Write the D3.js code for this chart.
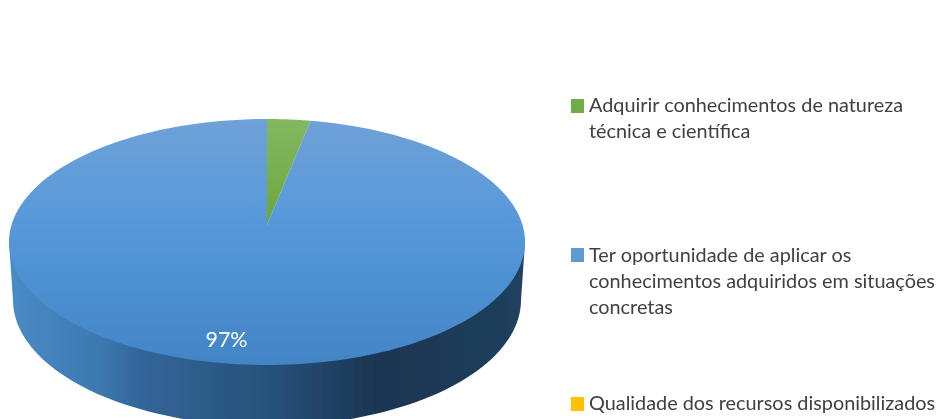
<!DOCTYPE html>
<html><head><meta charset="utf-8">
<script src="https://cdn.jsdelivr.net/npm/d3@7"></script>
<style>html,body{margin:0;background:#fff}svg{display:block}</style></head>
<body><div id="c"></div>
<script>
const categories = [
  ["Adquirir conhecimentos de natureza","técnica e científica"],
  ["Ter oportunidade de aplicar os","conhecimentos adquiridos em situações","concretas"],
  ["Qualidade dos recursos disponibilizados"]
];
const values = [2.7, 97.3, 0];
const labels = ["", "97%", ""];
const swatchColors = ["#70ad47", "#5b9bd5", "#ffc000"];

const W = 940, H = 419;
const cx = 267, cy = 242, rx = 258, ry = 123, apexY = 225;
const svg = d3.select("#c").append("svg").attr("width", W).attr("height", H);
const defs = svg.append("defs");
defs.append("filter").attr("id", "soft").append("feGaussianBlur").attr("stdDeviation", 0.45);

function grad(id, x1, y1, x2, y2, stops) {
  const g = defs.append("linearGradient").attr("id", id)
    .attr("x1", x1).attr("y1", y1).attr("x2", x2).attr("y2", y2)
    .attr("gradientUnits", "userSpaceOnUse");
  stops.forEach(s => g.append("stop").attr("offset", s[0]).attr("stop-color", s[1]));
}
grad("blueTop", cx, cy - ry, cx, cy + ry, [[0, "#6fa1d8"], [0.45, "#5598da"], [1, "#4285c6"]]);
grad("greenTop", cx, cy - ry, cx, apexY, [[0, "#84b763"], [1, "#6aa838"]]);
grad("wall", 9, 0, 525, 0, [[0, "#4a8bc6"], [0.18, "#3c78b0"], [0.25, "#33669a"], [0.5, "#28517a"], [0.72, "#1a3551"], [1, "#20405e"]]);

const root = svg.append("g").attr("filter", "url(#soft)");

// side wall
const botCy = 300, botRx = 254, botRy = 126;
const ang = d3.range(0, 181, 2).map(d => d * Math.PI / 180);
const wallPts = [[cx + rx, cy]].concat(
  ang.map(a => [cx + botRx * Math.cos(a), botCy + botRy * Math.sin(a)]),
  [[cx - rx, cy]]);
root.append("path").attr("d", d3.line()(wallPts) + "Z").attr("fill", "url(#wall)");

// top face: slices from d3.pie, mapped through x/y scales so gradients stay in page space
const slices = d3.pie().sort(null).value(d => d)(values);
const fills = ["url(#greenTop)", "url(#blueTop)", swatchColors[2]];
const sx = d3.scaleLinear().domain([-1, 1]).range([cx - rx, cx + rx]);
const sy = d3.scaleLinear().domain([-1, 1]).range([cy - ry, cy + ry]);
slices.forEach((p, i) => {
  if (p.value === 0) return;
  const steps = d3.range(0, 181).map(k => p.startAngle + (p.endAngle - p.startAngle) * k / 180);
  const pts = [[sx(0), apexY]].concat(steps.map(a => [sx(Math.sin(a)), sy(-Math.cos(a))]));
  root.append("path").attr("d", d3.line()(pts) + "Z").attr("fill", fills[i]);
});

// data label
root.append("text").attr("x", 226.5).attr("y", 347).attr("text-anchor", "middle")
  .attr("font-family", "Lato").attr("font-size", 21.5).attr("fill", "#fff").text(labels[1]);

// legend
const swatchTop = [99, 248, 397];
const textBase = [112, 262, 410];
const lg = root.append("g").attr("font-family", "Lato").attr("font-size", 19.85).attr("fill", "#404040");
categories.forEach((lines, i) => {
  lg.append("rect").attr("x", 571).attr("y", swatchTop[i]).attr("width", 13).attr("height", 14)
    .attr("fill", swatchColors[i]);
  lines.forEach((t, j) => {
    lg.append("text").attr("x", 589).attr("y", textBase[i] + j * 26).text(t);
  });
});
</script></body></html>
